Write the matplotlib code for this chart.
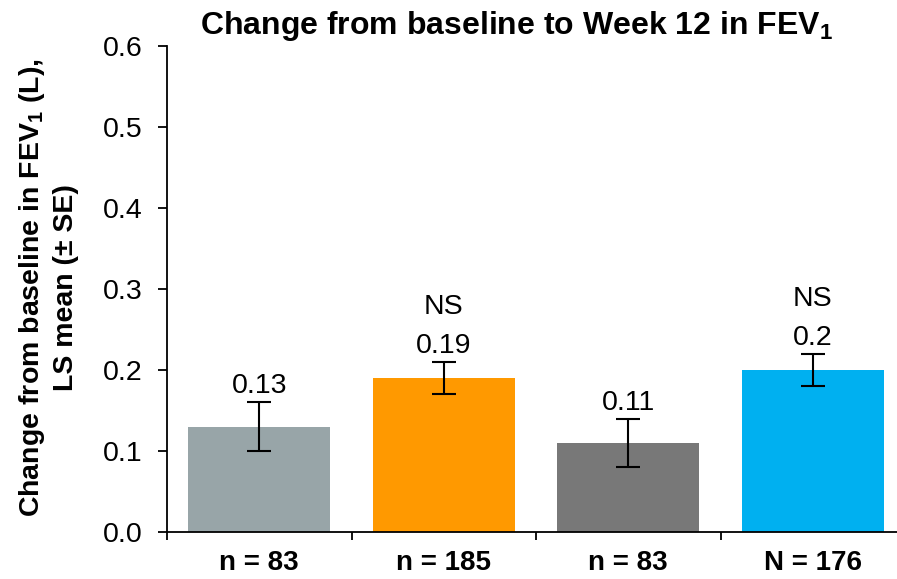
import matplotlib
matplotlib.use('Agg')
import matplotlib.pyplot as plt

plt.rcParams['font.family'] = ['Liberation Sans', 'DejaVu Sans']
plt.rcParams['mathtext.fontset'] = 'custom'
plt.rcParams['mathtext.rm'] = 'Liberation Sans:bold'
plt.rcParams['mathtext.bf'] = 'Liberation Sans:bold'

groups = ['n = 83', 'n = 185', 'n = 83', 'N = 176']
ls_mean = [0.13, 0.19, 0.11, 0.20]
se = [0.03, 0.02, 0.03, 0.02]
value_labels = ['0.13', '0.19', '0.11', '0.2']
sig_labels = ['', 'NS', '', 'NS']
colors = ['#98A5A8', '#FF9900', '#787878', '#00B0F0']

fig = plt.figure(figsize=(8.97, 5.79), dpi=100)
ax = fig.add_axes([167 / 897, 47 / 579, 738 / 897, 486 / 579])

x = list(range(len(groups)))
ax.bar(x, ls_mean, width=0.77, color=colors, zorder=2)
ax.errorbar(x, ls_mean, yerr=se, fmt='none', ecolor='black', elinewidth=1.5,
            capsize=8.5, capthick=1.5, zorder=3)

for i in x:
    top = ls_mean[i] + se[i]
    ax.text(i, top + 0.011, value_labels[i], ha='center', va='baseline', fontsize=20.5)
    if sig_labels[i]:
        ax.text(i, top + 0.059, sig_labels[i], ha='center', va='baseline', fontsize=20.5)

ax.set_xlim(-0.5, 3.5)
ax.set_ylim(0, 0.6)
ax.set_yticks([0, 0.1, 0.2, 0.3, 0.4, 0.5, 0.6])
ax.set_yticklabels(['%.1f' % v for v in ax.get_yticks()], fontsize=20.5)
ax.tick_params(axis='y', length=6.5, width=1.3, pad=11, direction='out')

ax.set_xticks(x)
ax.set_xticklabels(groups, fontsize=20, fontweight='bold')
ax.set_xticks([-0.5, 0.5, 1.5, 2.5, 3.5], minor=True)
ax.tick_params(axis='x', which='major', length=0, pad=13)
ax.tick_params(axis='x', which='minor', length=6, width=1.3, direction='out')

for side in ['top', 'right']:
    ax.spines[side].set_visible(False)
for side in ['left', 'bottom']:
    ax.spines[side].set_linewidth(1.3)

fig.text(48 / 897, 1 - 288 / 579, 'Change from baseline in FEV$_1$ (L),\nLS mean (± SE)',
         rotation=90, ha='center', va='center', fontsize=20.5, fontweight='bold',
         linespacing=1.3)
fig.text(516 / 897, 1 - 26 / 579, 'Change from baseline to Week 12 in FEV$_1$',
         ha='center', va='center', fontsize=23, fontweight='bold')

fig.savefig('out.png', dpi=100)
